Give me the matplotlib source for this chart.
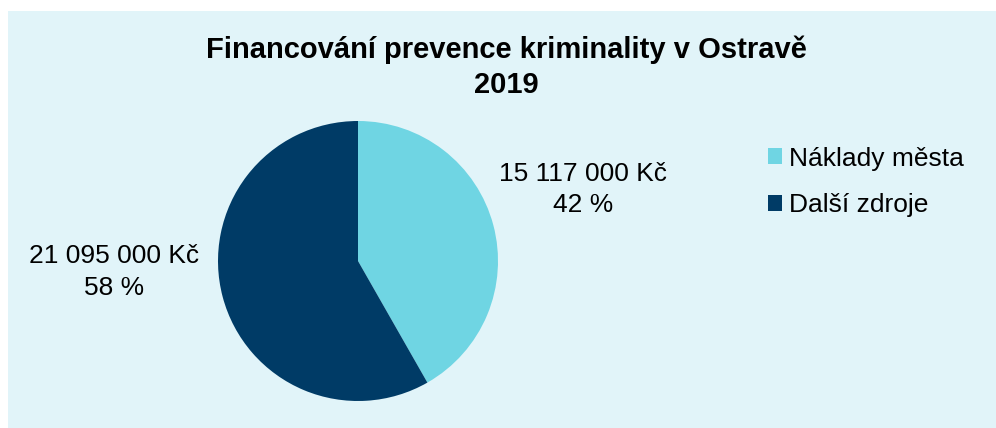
import matplotlib.pyplot as plt
from matplotlib.patches import Rectangle

# data
categories = ["Náklady města", "Další zdroje"]
values = [15117000, 21095000]
colors = ["#6FD5E3", "#003B66"]
title = "Financování prevence kriminality v Ostravě\n2019"

plt.rcParams['font.family'] = ['Liberation Sans', 'DejaVu Sans']

W, H = 996, 428
fig = plt.figure(figsize=(W / 100, H / 100), dpi=100, facecolor="white")

# light panel behind the chart
fig.patches.append(Rectangle((8 / W, 0), 1 - 8 / W, (H - 11) / H,
                             transform=fig.transFigure, facecolor="#E1F4F9",
                             edgecolor="none", zorder=-5))

# pie axes: centre (358, 261) px, radius 140 px
cx, cy, r = 358, 261, 140
ax = fig.add_axes([(cx - r) / W, (H - cy - r) / H, 2 * r / W, 2 * r / H])
ax.set_axis_off()
ax.set_zorder(2)
wedges, _ = ax.pie(values, colors=colors, startangle=90, counterclock=False,
                   radius=1, wedgeprops=dict(linewidth=0))
ax.set_xlim(-1, 1)
ax.set_ylim(-1, 1)

total = sum(values)
label_pos = [(1.61, 0.51), (-1.745, -0.08)]
for v, (lx, ly) in zip(values, label_pos):
    txt = f"{v:,} Kč".replace(",", " ") + f"\n{round(v / total * 100)} %"
    ax.text(lx, ly, txt, ha="center", va="center", fontsize=19,
            linespacing=1.4, clip_on=False)

fig.text(506 / W, 1 - 67 / H, title, ha="center", va="center",
         fontsize=21, fontweight="bold", linespacing=1.3)

fig.legend(wedges, categories, loc="center left",
           bbox_to_anchor=(744 / W, 1 - 182 / H), frameon=False,
           fontsize=19, handlelength=0.55, handleheight=0.55,
           handletextpad=0.25, labelspacing=0.87)

fig.savefig("out.png", dpi=100, facecolor="white")
